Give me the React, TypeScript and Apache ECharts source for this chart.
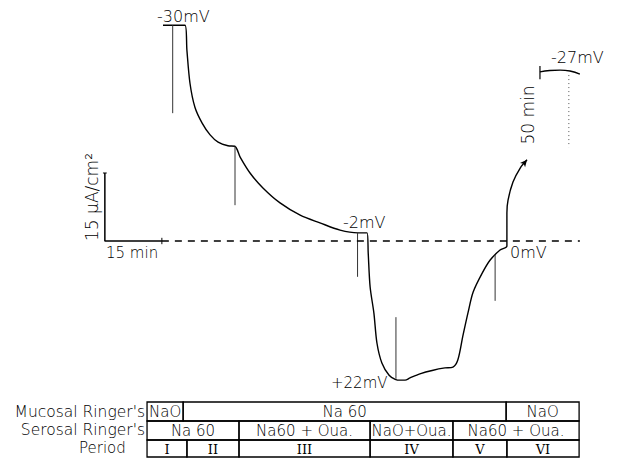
import React, { useEffect, useRef } from "react";
import * as echarts from "echarts";

// ---- data (time in min, current in µA/cm², time 0 = start of record) ----
const traceT = [0, 5.8, 6.3, 7.1, 8.4, 10.3, 12.4, 14.5, 17.1, 18.9, 20.3, 22.9, 26.3, 30.8, 36.1, 41.3, 46.6, 51.3, 53.7, 54.0, 54.5, 55.5, 56.3, 57.6, 59.5, 61.1, 62.4, 63.7, 65.0, 67.6, 71.1, 74.2, 76.3, 77.6, 78.9, 80.3, 81.6, 84.0, 86.1, 88.7, 90.5, 90.5, 90.8, 92.1, 94.0, 95.8];
const traceI = [47.6, 47.6, 42.0, 34.8, 29.5, 26.0, 23.4, 21.8, 21.0, 20.9, 18.5, 15.0, 11.7, 8.4, 5.7, 4.0, 2.4, 1.8, 1.8, -2.6, -10.1, -15.9, -22.5, -26.9, -29.6, -30.5, -30.7, -30.7, -30.2, -29.3, -28.5, -28.0, -27.8, -26.2, -21.0, -15.7, -11.3, -7.1, -4.2, -2.0, -1.1, 6.2, 9.0, 13.0, 16.1, 17.9];
// voltage-pulse deflections: [time, from, to]
const pulses = [
  [2.55, 47.6, 28.2],
  [18.95, 20.9, 7.9],
  [51.2, 1.8, -7.9],
  [61.3, -16.8, -30.4],
  [87.4, -3.1, -13.2],
];
// final record after 50 min
const finalArcT = [99.2, 101.8, 104.5, 107.1, 109.7];
const finalArcI = [37.3, 37.6, 37.7, 37.5, 36.8];
const finalTick = [99.2, 38.6, 35.7];
const finalPulse = [106.8, 36.6, 20.7];
const baselineT = [-0.3, 109.7];
// scale bars
const scaleBarMin = 15;
const scaleBarUA = 15;
const scaleBarT0 = -15.3;

// table (column boundaries in min)
const mucosal = [
  { label: "NaO", from: -4.2, to: 5.3 },
  { label: "Na 60", from: 5.3, to: 90.3 },
  { label: "NaO", from: 90.3, to: 109.5 },
];
const serosal = [
  { label: "Na 60", from: -4.2, to: 20.0 },
  { label: "Na60 + Oua.", from: 20.0, to: 54.5 },
  { label: "NaO+Oua.", from: 54.5, to: 76.3 },
  { label: "Na60 + Oua.", from: 76.3, to: 109.5 },
];
const periods = [
  { label: "I", from: -4.2, to: 6.3 },
  { label: "II", from: 6.3, to: 20.0 },
  { label: "III", from: 20.0, to: 54.5 },
  { label: "IV", from: 54.5, to: 76.3 },
  { label: "V", from: 76.3, to: 90.5 },
  { label: "VI", from: 90.5, to: 109.5 },
];
const rowLabels = ["Mucosal Ringer's", "Serosal Ringer's", "Period"];

// ---- layout ----
const W = 626, H = 459;
const PX_MIN = 57 / 15;
const PX_UA = 68 / 15;
const X0 = 163, Y0 = 241;
const xMin = -40, xMax = 120, yMin = -45, yMax = 50;
const px = (t: number) => X0 + t * PX_MIN;
const py = (i: number) => Y0 - i * PX_UA;
const FONT = "DejaVu Sans";
const WEIGHT = 200;
const rowY = [402, 421, 440, 457];

export default function App() {
  const ref = useRef<HTMLDivElement>(null);
  useEffect(() => {
    if (!ref.current) return;
    const chart = echarts.init(ref.current, null, { renderer: "svg" });
    const lineSeries = (data: any[], style: any, extra: any = {}) => ({
      type: "line",
      data,
      symbol: "none",
      clip: false,
      silent: true,
      lineStyle: style,
      ...extra,
    });
    const trace: any[] = traceT.map((t, k) => [t, traceI[k]]);
    const last = trace[trace.length - 1];
    trace[trace.length - 1] = {
      value: last,
      symbol: "arrow",
      symbolSize: [5, 7],
      symbolRotate: -40,
      itemStyle: { color: "#000" },
    };
    const series: any[] = [
      lineSeries(trace, { color: "#000", width: 1.4 }, { showSymbol: true, smooth: 0.3, itemStyle: { color: "#000" } }),
      ...pulses.map((p) => lineSeries([[p[0], p[1]], [p[0], p[2]]], { color: "#333", width: 1 })),
      lineSeries(finalArcT.map((t, k) => [t, finalArcI[k]]), { color: "#000", width: 1.4 }, { smooth: true }),
      lineSeries([[finalTick[0], finalTick[1]], [finalTick[0], finalTick[2]]], { color: "#000", width: 1.2 }),
      lineSeries([[finalPulse[0], finalPulse[1]], [finalPulse[0], finalPulse[2]]], { color: "#555", width: 1, type: [1, 3] }),
      lineSeries(baselineT.map((t) => [t, 0]), { color: "#000", width: 1.3, type: [7, 6] }),
      lineSeries([[scaleBarT0, scaleBarUA], [scaleBarT0, 0], [scaleBarT0 + scaleBarMin, 0]], { color: "#000", width: 1.5 }),
      lineSeries([[scaleBarT0 + scaleBarMin, 0.7], [scaleBarT0 + scaleBarMin, -0.7]], { color: "#000", width: 1 }),
      lineSeries([[scaleBarT0 - 0.5, scaleBarUA], [scaleBarT0 + 0.5, scaleBarUA]], { color: "#000", width: 1 }),
    ];

    const graphics: any[] = [];
    const txt = (x: number, y: number, text: string, opts: any = {}) =>
      graphics.push({
        type: "text",
        x,
        y,
        rotation: opts.rotation || 0,
        style: {
          text,
          font: `${opts.weight || WEIGHT} ${opts.size || 15}px "${opts.font || FONT}"`,
          fill: "#000",
          textAlign: opts.align || "left",
          textVerticalAlign: "middle",
        },
      });
    txt(157, 16, "-30mV", { size: 16 });
    txt(343, 222, "-2mV", { size: 16 });
    txt(510, 252, "0mV", { size: 16 });
    txt(331, 383, "+22mV", { size: 15 });
    txt(551, 57, "-27mV", { size: 16 });
    txt(528, 115, "50 min", { align: "center", rotation: Math.PI / 2, size: 17 });
    txt(92, 197, "15 µA/cm²", { align: "center", rotation: Math.PI / 2, size: 17 });
    txt(106, 253, "15 min", { size: 15 });

    const rows = [mucosal, serosal, periods];
    rows.forEach((cells, r) => {
      cells.forEach((c) => {
        const x1 = px(c.from), x2 = px(c.to);
        graphics.push({
          type: "rect",
          shape: { x: x1, y: rowY[r], width: x2 - x1, height: rowY[r + 1] - rowY[r] },
          style: { fill: "none", stroke: "#000", lineWidth: 1.3 },
        });
        const isPeriod = r === 2;
        txt((x1 + x2) / 2, (rowY[r] + rowY[r + 1]) / 2 + 0.5, c.label, {
          align: "center",
          size: isPeriod ? 13 : 15,
          font: isPeriod ? "DejaVu Serif" : FONT,
        });
      });
    });
    txt(145, 412, rowLabels[0], { align: "right", size: 15.5 });
    txt(145, 430, rowLabels[1], { align: "right", size: 15.5 });
    txt(79, 448, rowLabels[2], { size: 15 });

    chart.setOption({
      animation: false,
      backgroundColor: "#fff",
      grid: {
        left: px(xMin),
        right: W - px(xMax),
        top: py(yMax),
        bottom: H - py(yMin),
        containLabel: false,
      },
      xAxis: { type: "value", min: xMin, max: xMax, show: false },
      yAxis: { type: "value", min: yMin, max: yMax, show: false },
      series,
      graphic: graphics,
    });
    return () => chart.dispose();
  }, []);
  return (
    <div
      ref={ref}
      style={{ position: "fixed", left: 0, top: 0, width: W, height: H, background: "#fff" }}
    />
  );
}
